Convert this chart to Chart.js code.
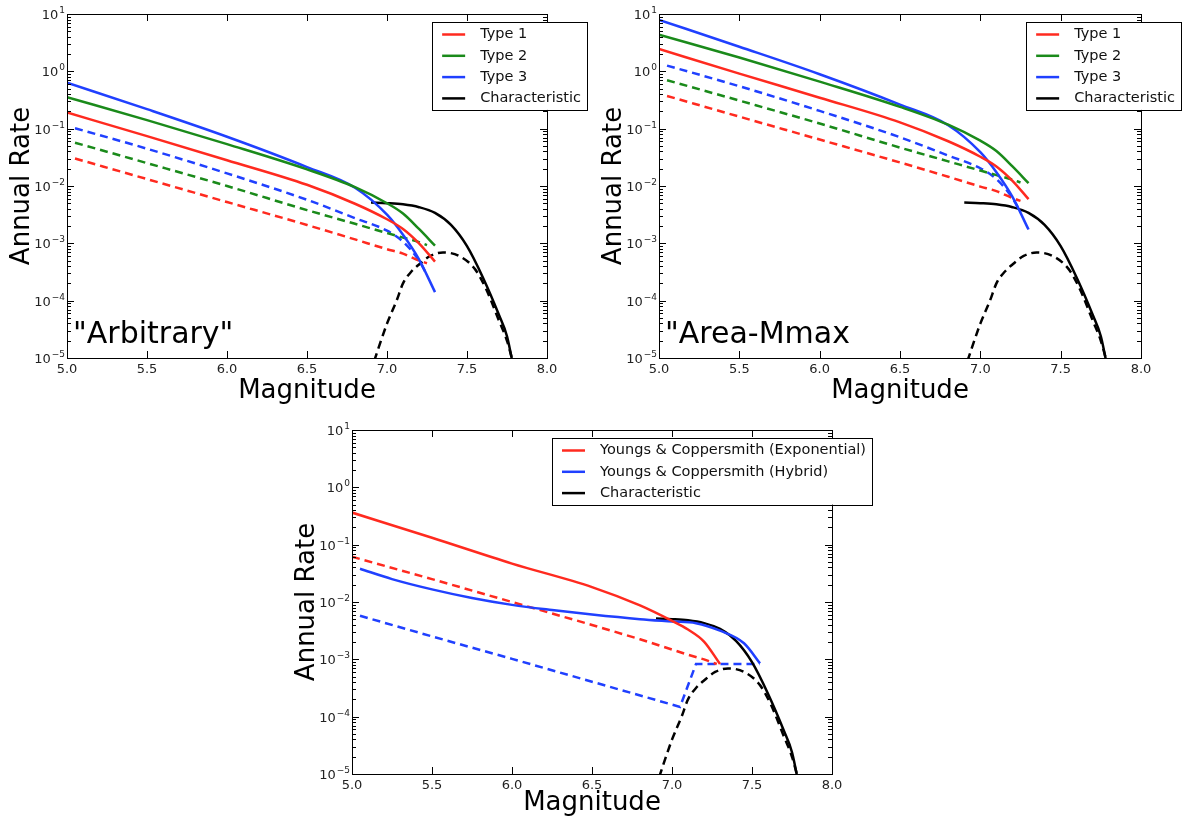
<!DOCTYPE html>
<html>
<head>
<meta charset="utf-8">
<script src="https://cdn.jsdelivr.net/npm/chart.js@4.4.1/dist/chart.umd.min.js"></script>
<style>
html,body{margin:0;padding:0;background:#fff;}
body{width:1182px;height:821px;position:relative;overflow:hidden;}
.panel{position:absolute;}
</style>
</head>
<body>
<div class="panel" style="left:0;top:0;width:592px;height:410px"><canvas id="arb"></canvas></div>
<div class="panel" style="left:592px;top:0;width:590px;height:410px"><canvas id="area"></canvas></div>
<div class="panel" style="left:285px;top:410px;width:600px;height:411px"><canvas id="yc"></canvas></div>
<script>
// magnitudes of the curve samples
const magSolid = [5.0, 5.5, 6.0, 6.5, 6.8, 7.0, 7.1, 7.2, 7.3];
const magBin   = [5.05, 5.5, 6.0, 6.5, 6.8, 7.0, 7.1, 7.2, 7.25];

// "Arbitrary" panel
const arbType1    = [0.191, 0.0741, 0.0282, 0.0105, 0.0049, 0.00263, 0.00178, 0.0010, 0.00048];
const arbType2    = [0.355, 0.141, 0.0537, 0.0195, 0.00955, 0.0050, 0.00331, 0.00178, 0.00091];
const arbType3    = [0.631, 0.219, 0.0724, 0.0214, 0.00933, 0.00316, 0.00141, 0.000525, 0.000141];
const arbType1Inc = [0.0302, 0.0132, 0.00525, 0.00209, 0.00117, 0.00079, 0.00066, 0.0005, 0.00045];
const arbType2Inc = [0.0569, 0.0251, 0.0100, 0.0038, 0.00219, 0.00151, 0.00126, 0.00105, 0.00093];
const arbType3Inc = [0.102, 0.0447, 0.0166, 0.00575, 0.00275, 0.00166, 0.00107, 0.0005, 0.00028];

// "Area-Mmax panel
const areaType1    = [2.45, 0.912, 0.347, 0.129, 0.0603, 0.0324, 0.0219, 0.0123, 0.00589];
const areaType2    = [4.37, 1.74, 0.661, 0.240, 0.1175, 0.0617, 0.0407, 0.0219, 0.0112];
const areaType3    = [7.9, 2.69, 0.891, 0.263, 0.115, 0.0389, 0.0174, 0.00646, 0.00174];
const areaType1Inc = [0.372, 0.162, 0.0646, 0.0257, 0.0145, 0.00977, 0.00813, 0.00617, 0.0055];
const areaType2Inc = [0.70, 0.309, 0.123, 0.0468, 0.0269, 0.0186, 0.0155, 0.0129, 0.0115];
const areaType3Inc = [1.26, 0.55, 0.204, 0.0708, 0.0339, 0.0204, 0.0132, 0.00617, 0.00347];

// characteristic model (same in all panels)
const charMag     = [6.9, 7.0, 7.1, 7.2, 7.3, 7.4, 7.5, 7.6, 7.7, 7.75, 7.8];
const charRate    = [0.00513, 0.00501, 0.00479, 0.00427, 0.00339, 0.00209, 0.000891, 0.000251, 0.0000562, 0.000024, 0.000005];
const charIncMag  = [6.92, 7.0, 7.06, 7.1, 7.15, 7.2, 7.27, 7.35, 7.45, 7.55, 7.62, 7.7, 7.75, 7.79];
const charIncRate = [0.0000089, 0.0000398, 0.0001, 0.0002, 0.000316, 0.000427, 0.000603, 0.000692, 0.000603, 0.000355, 0.000158, 0.0000447, 0.00002, 0.0000079];

// Youngs & Coppersmith panel
const ycExpMag     = [5.0, 5.5, 6.0, 6.5, 6.8, 7.0, 7.1, 7.2, 7.3];
const ycExpRate    = [0.363, 0.132, 0.0468, 0.0182, 0.0087, 0.00468, 0.00331, 0.00204, 0.00083];
const ycExpIncMag  = [5.0, 5.5, 6.0, 6.5, 6.8, 7.0, 7.1, 7.2, 7.28];
const ycExpIncRate = [0.0617, 0.0251, 0.0100, 0.00398, 0.00224, 0.00148, 0.0012, 0.0010, 0.00083];
const ycHybMag     = [5.05, 5.25, 5.5, 5.75, 6.0, 6.25, 6.5, 6.8, 7.0, 7.15, 7.3, 7.45, 7.55];
const ycHybRate    = [0.038, 0.0251, 0.0166, 0.01175, 0.00891, 0.00724, 0.00603, 0.00501, 0.00457, 0.00427, 0.00316, 0.00191, 0.00085];
const ycHybIncMag  = [5.05, 5.5, 6.0, 6.5, 7.05, 7.15, 7.55];
const ycHybIncRate = [0.00575, 0.00251, 0.00102, 0.000407, 0.000148, 0.00083, 0.00083];

// axes
const xTicks = [5.0, 5.5, 6.0, 6.5, 7.0, 7.5, 8.0];
const yTicks = [1e-5, 1e-4, 1e-3, 1e-2, 1e-1, 1, 10];
const yTickExp = ['\u22125', '\u22124', '\u22123', '\u22122', '\u22121', '0', '1'];
const legendTop = ['Type 1', 'Type 2', 'Type 3', 'Characteristic'];
const legendBottom = ['Youngs & Coppersmith (Exponential)', 'Youngs & Coppersmith (Hybrid)', 'Characteristic'];

const RED = '#ff2a1f', GREEN = '#1a8a1a', BLUE = '#2040ff', BLACK = '#000000';
const FONT = "'DejaVu Sans', 'Liberation Sans', sans-serif";

const pts = (m, r) => m.map((v, i) => ({x: v, y: r[i]}));

function line(label, m, r, color, dashed, sharp){
  return {label, data: pts(m, r), borderColor: color, backgroundColor: color,
    borderWidth: 2.5, borderDash: dashed ? [8, 5] : [], pointRadius: 0,
    cubicInterpolationMode: sharp ? 'default' : 'monotone', tension: 0, clip: 0, fill: false};
}

// inward ticks on all four sides, axes frame and 10^n labels, matplotlib style
const frame = {
  id: 'frame',
  afterDatasetsDraw(chart){
    const {ctx, chartArea: a, scales: {x, y}} = chart;
    ctx.save();
    ctx.setLineDash([]);
    ctx.strokeStyle = '#000';
    ctx.lineWidth = 1;
    ctx.beginPath();
    for (let e = -5; e <= 0; e++){
      for (let k = 1; k <= 10; k++){
        const v = k * Math.pow(10, e);
        const py = Math.round(y.getPixelForValue(v)) + 0.5;
        const len = (k === 1 || k === 10) ? 7 : 4;
        ctx.moveTo(a.left, py); ctx.lineTo(a.left + len, py);
        ctx.moveTo(a.right, py); ctx.lineTo(a.right - len, py);
      }
    }
    xTicks.forEach(v => {
      const px = Math.round(x.getPixelForValue(v)) + 0.5;
      ctx.moveTo(px, a.bottom); ctx.lineTo(px, a.bottom - 7);
      ctx.moveTo(px, a.top); ctx.lineTo(px, a.top + 7);
    });
    ctx.stroke();
    ctx.strokeRect(Math.round(a.left) + 0.5, Math.round(a.top) + 0.5, Math.round(a.right - a.left), Math.round(a.bottom - a.top));

    // y labels: "10" with raised exponent
    ctx.fillStyle = '#222';
    ctx.textAlign = 'right';
    ctx.textBaseline = 'alphabetic';
    yTicks.forEach((v, i) => {
      const py = y.getPixelForValue(v);
      ctx.font = '9px ' + FONT;
      const ew = ctx.measureText(yTickExp[i]).width;
      ctx.fillText(yTickExp[i], a.left - 2, py - 1);
      ctx.font = '13px ' + FONT;
      ctx.fillText('10', a.left - 3 - ew, py + 5);
    });
    ctx.restore();
  }
};

// boxed legend in the upper right, hanging over the frame like the original
const boxLegend = {
  id: 'boxLegend',
  afterDraw(chart, args, opts){
    const {ctx, chartArea: a} = chart;
    const items = opts.items || [];
    if (!items.length) return;
    ctx.save();
    ctx.setLineDash([]);
    ctx.font = '14.5px ' + FONT;
    const tw = Math.max(...items.map(it => ctx.measureText(it.label).width));
    const rowH = 21.3;
    const w = 10 + 23 + 15 + tw + 6;
    const h = 12.5 + rowH * (items.length - 1) + 11.5;
    const right = a.right + 40, top = a.top + 8;
    const left = right - w;
    ctx.fillStyle = '#fff';
    ctx.fillRect(left, top, w, h);
    ctx.strokeStyle = '#000';
    ctx.lineWidth = 1;
    ctx.strokeRect(Math.round(left) + 0.5, Math.round(top) + 0.5, Math.round(w), Math.round(h));
    items.forEach((it, i) => {
      const cy = top + 12.5 + i * rowH;
      ctx.strokeStyle = it.color;
      ctx.lineWidth = 2.5;
      ctx.beginPath();
      ctx.moveTo(left + 10, cy); ctx.lineTo(left + 33, cy);
      ctx.stroke();
      ctx.fillStyle = '#111';
      ctx.textBaseline = 'middle';
      ctx.textAlign = 'left';
      ctx.fillText(it.label, left + 48, cy);
    });
    ctx.restore();
  }
};

// big panel tag in the lower left
const tag = {
  id: 'tag',
  afterDatasetsDraw(chart, args, opts){
    if (!opts.text) return;
    const {ctx, chartArea: a} = chart;
    ctx.save();
    ctx.font = '30px ' + FONT;
    ctx.fillStyle = '#000';
    ctx.textBaseline = 'alphabetic';
    ctx.fillText(opts.text, a.left + 6, a.bottom - 15);
    ctx.restore();
  }
};

function makeChart(id, datasets, legendItems, text, pad, xH, xTitlePad){
  return new Chart(document.getElementById(id), {
    type: 'line',
    data: {datasets},
    options: {
      responsive: true, maintainAspectRatio: false, animation: false,
      layout: {padding: pad},
      plugins: {legend: {display: false}, tooltip: {enabled: false},
        boxLegend: {items: legendItems}, tag: {text}},
      scales: {
        x: {type: 'linear', min: 5, max: 8,
          afterBuildTicks: ax => { ax.ticks = xTicks.map(v => ({value: v})); },
          afterFit: ax => { ax.height = xH; },
          grid: {display: false, drawTicks: false}, border: {display: false},
          ticks: {autoSkip: false, maxRotation: 0, padding: 4, color: '#222', font: {family: FONT, size: 13},
            callback: v => v.toFixed(1)},
          title: {display: true, text: 'Magnitude', color: '#000', font: {family: FONT, size: 26},
            padding: {top: xTitlePad, bottom: xTitlePad}}
        },
        y: {type: 'logarithmic', min: 1e-5, max: 10,
          afterBuildTicks: ax => { ax.ticks = yTicks.map(v => ({value: v})); },
          afterFit: ax => { ax.width = 67; },
          grid: {display: false, drawTicks: false}, border: {display: false},
          ticks: {display: false},
          title: {display: true, text: 'Annual Rate', color: '#000', font: {family: FONT, size: 26},
            padding: {top: 7, bottom: 7}}
        }
      }
    },
    plugins: [frame, boxLegend, tag]
  });
}

document.addEventListener('DOMContentLoaded', () => {
  const topItems = legendTop.map((label, i) => ({label, color: [RED, GREEN, BLUE, BLACK][i]}));
  const botItems = legendBottom.map((label, i) => ({label, color: [RED, BLUE, BLACK][i]}));

  makeChart('arb', [
    line('Type 1', magSolid, arbType1, RED),
    line('Type 2', magSolid, arbType2, GREEN),
    line('Type 3', magSolid, arbType3, BLUE),
    line('Characteristic', charMag, charRate, BLACK),
    line('Type 1 inc', magBin, arbType1Inc, RED, true),
    line('Type 2 inc', magBin, arbType2Inc, GREEN, true),
    line('Type 3 inc', magBin, arbType3Inc, BLUE, true),
    line('Characteristic inc', charIncMag, charIncRate, BLACK, true)
  ], topItems, '"Arbitrary"', {top: 14, right: 45, left: 0, bottom: 0}, 52, 3);

  makeChart('area', [
    line('Type 1', magSolid, areaType1, RED),
    line('Type 2', magSolid, areaType2, GREEN),
    line('Type 3', magSolid, areaType3, BLUE),
    line('Characteristic', charMag, charRate, BLACK),
    line('Type 1 inc', magBin, areaType1Inc, RED, true),
    line('Type 2 inc', magBin, areaType2Inc, GREEN, true),
    line('Type 3 inc', magBin, areaType3Inc, BLUE, true),
    line('Characteristic inc', charIncMag, charIncRate, BLACK, true)
  ], topItems, '"Area-Mmax', {top: 14, right: 41, left: 0, bottom: 0}, 52, 3);

  makeChart('yc', [
    line('Youngs & Coppersmith (Exponential)', ycExpMag, ycExpRate, RED),
    line('Youngs & Coppersmith (Hybrid)', ycHybMag, ycHybRate, BLUE),
    line('Characteristic', charMag, charRate, BLACK),
    line('Exponential inc', ycExpIncMag, ycExpIncRate, RED, true, true),
    line('Hybrid inc', ycHybIncMag, ycHybIncRate, BLUE, true, true),
    line('Characteristic inc', charIncMag, charIncRate, BLACK, true)
  ], botItems, '', {top: 20, right: 53, left: 0, bottom: 0}, 47, 2);
});
</script>
</body>
</html>
